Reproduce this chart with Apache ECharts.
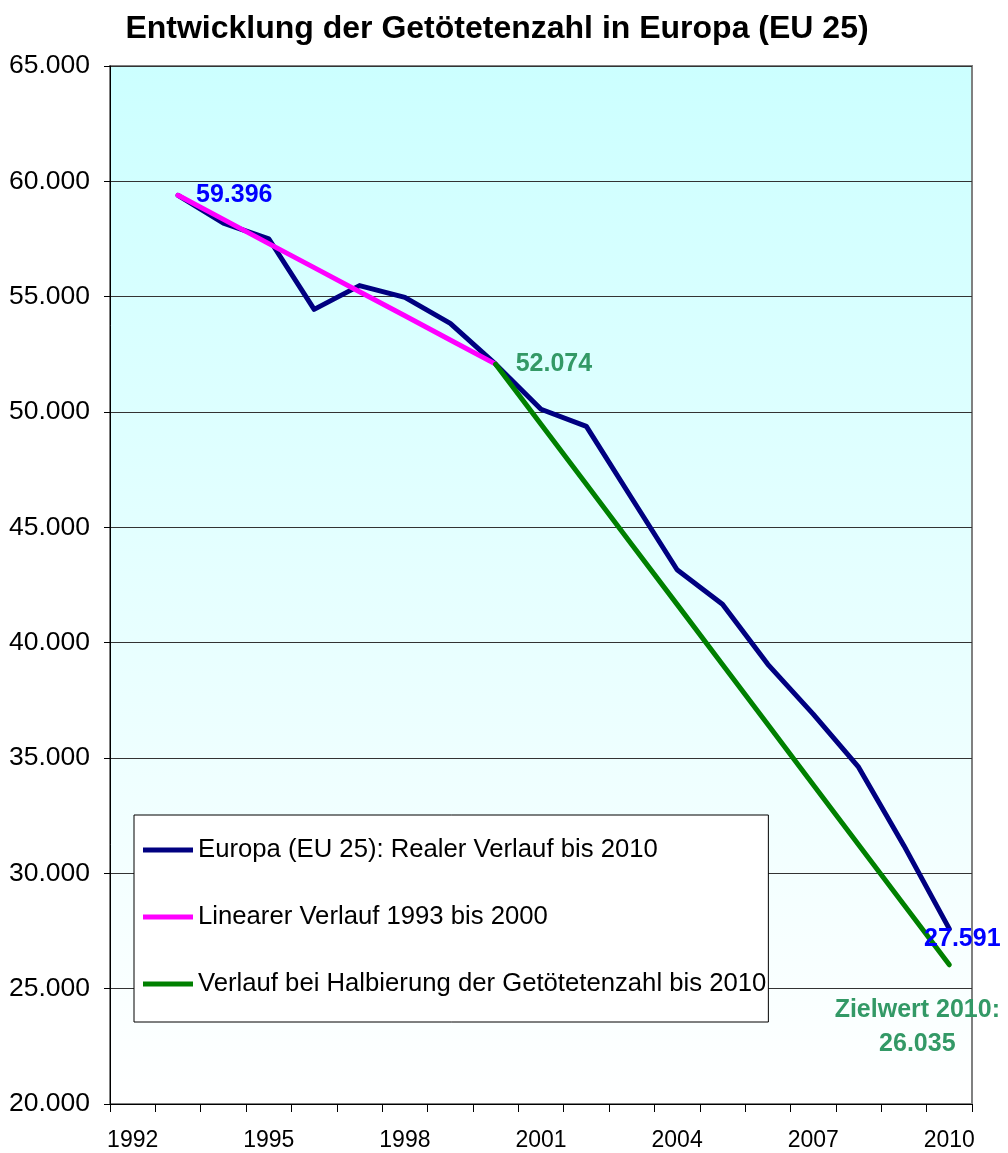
<!DOCTYPE html>
<html>
<head>
<meta charset="utf-8">
<script src="https://cdn.jsdelivr.net/npm/echarts@6/dist/echarts.min.js"></script>
<style>
  html, body { margin: 0; padding: 0; background: #fff; }
  #chart { width: 1008px; height: 1153px; }
</style>
</head>
<body>
<div id="chart"></div>
<script>
// Jahre (Kategorien)
const years = ['1992', '1993', '1994', '1995', '1996', '1997', '1998', '1999', '2000', '2001',
               '2002', '2003', '2004', '2005', '2006', '2007', '2008', '2009', '2010'];
// Europa (EU 25): realer Verlauf
const realValues = [null, 59396, 58190, 57510, 54450, 55480, 54970, 53840, 52074, 50120,
                    49380, 46260, 43160, 41670, 39060, 36900, 34600, 31200, 27591];
// linearer Verlauf 1993 bis 2000
const linearValues = [null, 59396, 58350, 57300, 56260, 55210, 54170, 53120, 52074, null,
                      null, null, null, null, null, null, null, null, null];
// Halbierung bis 2010
const targetValues = [null, null, null, null, null, null, null, null, 52074, 49470,
                      46870, 44260, 41660, 39050, 36450, 33840, 31240, 28640, 26035];

const seriesNames = ['Europa (EU 25): Realer Verlauf bis 2010',
                     'Linearer Verlauf 1993 bis 2000',
                     'Verlauf bei Halbierung der Getötetenzahl bis 2010'];

const FONT = '"Liberation Sans", Arial, sans-serif';

function fmt(v) {
    return String(Math.round(v)).replace(/\B(?=(\d{3})+(?!\d))/g, '.');
}

const labelBase = {
    show: true,
    fontFamily: FONT,
    fontWeight: 'bold',
    fontSize: 25
};

const realData = realValues.map(function (v, i) {
    if (i === 1) {
        return {value: v, label: Object.assign({}, labelBase, {
            position: 'right', distance: 18, color: '#0000ff', formatter: p => fmt(p.value)})};
    }
    if (i === 18) {
        return {value: v, label: Object.assign({}, labelBase, {
            position: 'inside', offset: [13, 10], color: '#0000ff', formatter: p => fmt(p.value)})};
    }
    return v;
});

const targetData = targetValues.map(function (v, i) {
    if (i === 8) {
        return {value: v, label: Object.assign({}, labelBase, {
            position: 'right', distance: 20, color: '#339966', formatter: p => fmt(p.value)})};
    }
    if (i === 18) {
        return {value: v, label: Object.assign({}, labelBase, {
            position: 'inside', offset: [-32, 62], color: '#339966', align: 'center',
            lineHeight: 34, formatter: p => 'Zielwert 2010:\n' + fmt(p.value)})};
    }
    return v;
});

function lineSeries(name, data, color) {
    return {
        name: name,
        type: 'line',
        data: data,
        symbol: 'circle',
        symbolSize: 0,
        showSymbol: true,
        connectNulls: false,
        animation: false,
        lineStyle: {color: color, width: 5, cap: 'round', join: 'round'},
        itemStyle: {color: color},
        emphasis: {disabled: true}
    };
}

const chart = echarts.init(document.getElementById('chart'));

const option = {
    backgroundColor: '#ffffff',
    animation: false,
    title: {
        text: 'Entwicklung der Getötetenzahl in Europa (EU 25)',
        left: 492,
        top: 8,
        textAlign: 'center',
        textStyle: {fontFamily: FONT, fontWeight: 'bold', fontSize: 32, color: '#000'}
    },
    legend: {
        orient: 'vertical',
        left: 134,
        top: 815,
        padding: [22, 2, 25, 9],
        itemGap: 41,
        itemWidth: 50,
        itemHeight: 5,
        icon: 'rect',
        backgroundColor: '#ffffff',
        borderColor: '#000000',
        borderWidth: 1,
        textStyle: {fontFamily: FONT, fontSize: 25.7, color: '#000', lineHeight: 26},
        data: seriesNames
    },
    grid: {
        left: 110,
        right: 36,
        top: 66,
        bottom: 49,
        outerBoundsMode: 'none',
        show: true,
        borderColor: '#808080',
        borderWidth: 2,
        backgroundColor: {
            type: 'linear', x: 0, y: 0, x2: 0, y2: 1,
            colorStops: [{offset: 0, color: '#ccffff'}, {offset: 1, color: '#ffffff'}]
        }
    },
    xAxis: {
        type: 'category',
        data: years,
        boundaryGap: true,
        axisLine: {lineStyle: {color: '#000', width: 1}},
        axisTick: {show: true, interval: 0, length: 8, lineStyle: {color: '#000'}},
        axisLabel: {interval: 2, margin: 25, fontFamily: FONT, fontSize: 23, color: '#000'},
        splitLine: {show: false}
    },
    yAxis: {
        type: 'value',
        min: 20000,
        max: 65000,
        interval: 5000,
        axisLine: {show: true, lineStyle: {color: '#000', width: 1}},
        axisTick: {show: true, length: 6, lineStyle: {color: '#000'}},
        axisLabel: {margin: 20, fontFamily: FONT, fontSize: 26.5, color: '#000', formatter: fmt},
        splitLine: {show: true, lineStyle: {color: '#333', width: 1}}
    },
    series: [
        lineSeries(seriesNames[0], realData, '#000080'),
        lineSeries(seriesNames[1], linearValues, '#ff00ff'),
        lineSeries(seriesNames[2], targetData, '#008000')
    ]
};

chart.setOption(option);
</script>
</body>
</html>
